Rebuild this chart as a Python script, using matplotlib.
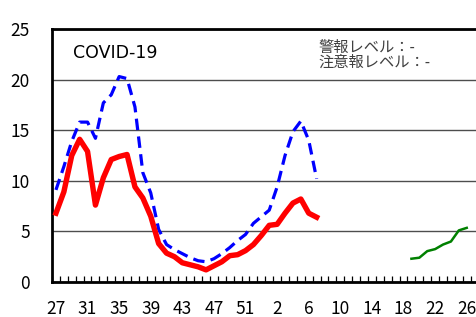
import numpy as np
import matplotlib
matplotlib.use('Agg')
from matplotlib import pyplot as plt

plt.rcParams['font.family'] = ['Noto Sans CJK JP', 'DejaVu Sans']

# week numbers, 27..53 then 1..26
weeks = [27, 28, 29, 30, 31, 32, 33, 34, 35, 36, 37, 38, 39, 40, 41, 42, 43, 44,
         45, 46, 47, 48, 49, 50, 51, 52, 53, 1, 2, 3, 4, 5, 6, 7, 8, 9, 10, 11,
         12, 13, 14, 15, 16, 17, 18, 19, 20, 21, 22, 23, 24, 25, 26]

# current season (red)
red = [6.8, 8.9, 12.5, 14.1, 12.9, 7.6, 10.3, 12.1, 12.4, 12.6, 9.4, 8.3,
       6.5, 3.8, 2.85, 2.5, 1.9, 1.7, 1.5, 1.2, 1.6, 2.0, 2.6, 2.7, 3.1, 3.7,
       4.6, 5.6, 5.7, 6.8, 7.8, 8.2, 6.8, 6.4]
# previous season (blue dashed)
blue = [9.1, 11.4, 13.9, 15.8, 15.8, 14.2, 17.7, 18.5, 20.3, 20.1, 17.3, 10.8,
        8.8, 5.2, 3.7, 3.2, 2.8, 2.4, 2.1, 2.0, 2.3, 2.8, 3.4, 4.1, 4.7, 5.8,
        6.45, 7.1, 9.4, 12.5, 14.85, 15.9, 14.0, 10.2]
# green, weeks 19..26
green_start = 19
green = [2.3, 2.4, 3.05, 3.25, 3.7, 4.0, 5.1, 5.35]


def pad(vals, start=0):
    out = np.full(len(weeks), np.nan)
    out[start:start + len(vals)] = vals
    return out


x = np.arange(len(weeks))

fig = plt.figure(figsize=(4.77, 3.17), dpi=100)
ax = fig.add_axes([52/477, 35/317, 425/477, 253/317])

ax.plot(x, pad(blue), color='#0000ff', lw=2.3, ls=(0, (3.6, 2.0)), zorder=3)
ax.plot(x, pad(red), color='#ff0000', lw=3.9, solid_joinstyle='round', zorder=4)
ax.plot(x, pad(green, weeks.index(green_start)), color='#008000', lw=1.8, zorder=3)

ax.set_ylim(0, 25)
ax.set_xlim(-0.5, 53.3)
ax.set_yticks([0, 5, 10, 15, 20, 25])
ax.yaxis.grid(True, color='#4d4d4d', lw=1.0)
ax.set_axisbelow(True)

ax.set_xticks(x[::4])
ax.set_xticklabels([str(w) for w in weeks[::4]])
ax.set_xticks(np.arange(-0.5, len(weeks), 1.0), minor=True)
ax.tick_params(axis='x', which='major', length=0, pad=13, labelsize=12.5)
ax.tick_params(axis='x', which='minor', direction='in', length=4, width=0.9)
ax.tick_params(axis='y', length=0, pad=16, labelsize=12.5)

for s in ['left', 'top', 'bottom']:
    ax.spines[s].set_linewidth(2)
    ax.spines[s].set_color('black')
ax.spines['right'].set_visible(False)

ax.text(0.05, 0.905, 'COVID-19', transform=ax.transAxes, fontsize=12.5,
        va='center', ha='left', family='DejaVu Sans')
ax.text(0.627, 0.96, '警報レベル：-\n注意報レベル：-', transform=ax.transAxes,
        fontsize=11, va='top', ha='left', color='#404040', linespacing=0.8)

fig.savefig('out.png', dpi=100)
